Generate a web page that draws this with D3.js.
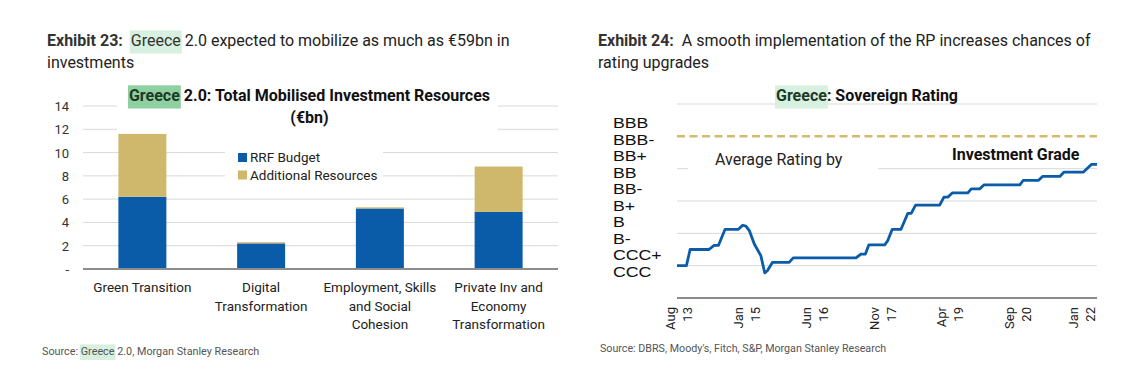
<!DOCTYPE html>
<html><head><meta charset="utf-8">
<script src="https://cdn.jsdelivr.net/npm/d3@7"></script>
<style>
body{margin:0;background:#fff}
svg{display:block;font-family:Roboto,"Noto Sans",sans-serif}
text{white-space:pre}
</style>
</head><body>
<svg id="c" width="1140" height="377"></svg>
<script>
// ---------- Data: Exhibit 23 ----------
const categories = [
  ["Green Transition"],
  ["Digital", "Transformation"],
  ["Employment, Skills", "and Social", "Cohesion"],
  ["Private Inv and", "Economy", "Transformation"]
];
const rrfBudget = [6.2, 2.2, 5.2, 4.9];
const additionalResources = [5.4, 0.1, 0.1, 3.9];
const leftTicks = [0, 2, 4, 6, 8, 10, 12, 14];
const leftTickLabels = ["-", "2", "4", "6", "8", "10", "12", "14"];
const seriesNames = ["RRF Budget", "Additional Resources"];

// ---------- Data: Exhibit 24 ----------
const ratingLabels = ["BBB", "BBB-", "BB+", "BB", "BB-", "B+", "B", "B-", "CCC+", "CCC"];
const ratingDates = [
  "2013-07-15","2013-09-25","2013-10-23","2014-03-16","2014-04-24","2014-05-27","2014-07-17",
  "2014-10-27","2014-11-28","2014-12-23","2015-01-18","2015-02-25","2015-04-16","2015-05-16",
  "2015-06-06","2015-07-13","2015-11-18","2015-12-19","2017-04-11","2017-05-19","2017-06-22",
  "2017-07-18","2017-11-16","2017-12-10","2018-01-13","2018-03-21","2018-05-12","2018-06-07",
  "2018-07-10","2019-01-10","2019-02-12","2019-03-13","2019-04-16","2019-08-13","2019-09-08",
  "2019-11-12","2019-12-15","2020-09-13","2020-10-08","2021-02-01","2021-03-05","2021-07-15",
  "2021-08-15","2022-01-10","2022-03-13","2022-04-25"
];
const ratingValues = [
  0, 0, 1, 1, 1.25, 1.25, 2.25,
  2.25, 2.5, 2.45, 2.17, 1.34, 0.62, -0.45,
  -0.3, 0.2, 0.2, 0.48, 0.48, 0.72, 0.72,
  1.28, 1.28, 1.55, 2.25, 2.25, 3.24, 3.24,
  3.74, 3.74, 4.24, 4.24, 4.5, 4.5, 4.75,
  4.75, 5.0, 5.0, 5.27, 5.27, 5.52, 5.52,
  5.78, 5.78, 6.26, 6.26
];
const ratingGrid = [0, 2, 4, 6, 10];
const investmentGrade = 8;
const xTickDates = ["2013-08-01","2015-01-01","2016-06-01","2017-11-01","2019-04-01","2020-09-01","2022-01-01"];
const xTickLabels = [["Aug","13"],["Jan","15"],["Jun","16"],["Nov","17"],["Apr","19"],["Sep","20"],["Jan","22"]];

// ---------- Styles ----------
const BLUE = "#0a5ba8", GOLD = "#cfb76c", GRID = "#d9d9d9", AXIS = "#8c8c8c";
const HL_LIGHT = "#d8f0df", HL_STRONG = "#8fd0a0";

const svg = d3.select("#c");

// helper: sequential runs of text with optional highlight
function runs(g, x, y, parts, size, anchor) {
  const grp = g.append("g");
  let cx = 0;
  const items = [];
  parts.forEach(p => {
    const t = grp.append("text").attr("x", cx).attr("y", 0)
      .attr("font-size", size).attr("font-weight", p.bold ? 700 : 400)
      .attr("fill", p.color || "#222").text(p.t);
    const w = t.node().getComputedTextLength();
    items.push({t, x: cx, w, p});
    cx += w;
  });
  items.forEach(it => {
    if (it.p.hl) {
      grp.insert("rect", ":first-child").attr("x", it.x - 1).attr("y", -size * 0.98)
        .attr("width", it.w + 2).attr("height", size * 1.45).attr("fill", it.p.hl);
    }
  });
  const off = anchor === "middle" ? -cx / 2 : 0;
  grp.attr("transform", `translate(${x + off},${y})`);
  return grp;
}

// ================= Exhibit 23 =================
const L = svg.append("g");
runs(L, 47, 46, [{t:"Exhibit 23:", bold:true, color:"#333"}, {t:"  "}, {t:"Greece", hl:HL_LIGHT, color:"#333"}, {t:" 2.0 expected to mobilize as much as €59bn in", color:"#222"}], 16);
runs(L, 47, 68, [{t:"investments", color:"#222"}], 16);

const x1 = d3.scaleBand().domain(d3.range(categories.length)).range([83, 558])
  .paddingInner(0.596).paddingOuter(0.298);
const y1 = d3.scaleLinear().domain([0, 14]).range([269, 106]);

// gridlines
L.append("g").selectAll("line").data(leftTicks.filter(d => d > 0)).join("line")
  .attr("x1", 83).attr("x2", 558).attr("y1", d => y1(d)).attr("y2", d => y1(d))
  .attr("stroke", GRID).attr("stroke-width", 1);

// y tick labels
L.append("g").selectAll("text").data(leftTicks).join("text")
  .attr("x", 69).attr("y", d => y1(d) + 5).attr("text-anchor", "end")
  .attr("font-size", 13).attr("fill", "#333").text((d, i) => leftTickLabels[i]);

// title white box + title
L.append("rect").attr("x", 117).attr("y", 84).attr("width", 381).attr("height", 48).attr("fill", "#fff");
runs(L, 309.5, 101, [{t:"Greece", bold:true, hl:HL_STRONG, color:"#1d3a26"}, {t:" 2.0: Total Mobilised Investment Resources", bold:true, color:"#111"}], 16, "middle");
L.append("text").attr("x", 309.5).attr("y", 123).attr("text-anchor", "middle")
  .attr("font-size", 16).attr("font-weight", 700).attr("fill", "#111").text("(€bn)");

// legend box
L.append("rect").attr("x", 225).attr("y", 143).attr("width", 158).attr("height", 46).attr("fill", "#fff");
const leg = L.append("g");
[BLUE, GOLD].forEach((c, i) => {
  leg.append("rect").attr("x", 238).attr("y", 153 + i * 17.5).attr("width", 9).attr("height", 9).attr("fill", c);
  leg.append("text").attr("x", 250).attr("y", 162 + i * 17.5).attr("font-size", 13.5).attr("fill", "#222").text(seriesNames[i]);
});

// bars
const stack = categories.map((c, i) => ({i, a: rrfBudget[i], b: additionalResources[i]}));
L.append("g").selectAll("rect").data(stack).join("rect")
  .attr("x", d => x1(d.i)).attr("width", x1.bandwidth())
  .attr("y", d => y1(d.a)).attr("height", d => y1(0) - y1(d.a)).attr("fill", BLUE);
L.append("g").selectAll("rect").data(stack).join("rect")
  .attr("x", d => x1(d.i)).attr("width", x1.bandwidth())
  .attr("y", d => y1(d.a + d.b)).attr("height", d => y1(d.a) - y1(d.a + d.b)).attr("fill", GOLD);

// axis line
L.append("line").attr("x1", 83).attr("x2", 558).attr("y1", y1(0)).attr("y2", y1(0))
  .attr("stroke", AXIS).attr("stroke-width", 2);

// category labels
categories.forEach((lines, i) => {
  const t = L.append("text").attr("text-anchor", "middle").attr("font-size", 13.5).attr("fill", "#222");
  lines.forEach((s, k) => t.append("tspan").attr("x", x1(i) + x1.bandwidth() / 2).attr("y", 292 + k * 18.5).text(s));
});

runs(L, 42, 355, [{t:"Source: ", color:"#555"}, {t:"Greece", hl:HL_LIGHT, color:"#555"}, {t:" 2.0, Morgan Stanley Research", color:"#555"}], 10.8);

// ================= Exhibit 24 =================
const R = svg.append("g");
runs(R, 598, 46, [{t:"Exhibit 24:", bold:true, color:"#333"}, {t:"  A smooth implementation of the RP increases chances of", color:"#222"}], 16);
runs(R, 598, 68, [{t:"rating upgrades", color:"#222"}], 16);

const parse = d3.timeParse("%Y-%m-%d");
const x2 = d3.scaleTime().domain([parse("2013-07-15"), parse("2022-04-25")]).range([677, 1097]);
const y2 = d3.scaleLinear().domain([-2, 10]).range([298, 104]);

R.append("g").selectAll("line").data(ratingGrid).join("line")
  .attr("x1", 677).attr("x2", 1097).attr("y1", d => y2(d)).attr("y2", d => y2(d))
  .attr("stroke", GRID).attr("stroke-width", 1);

// investment grade dashed line
R.append("line").attr("x1", 677).attr("x2", 1097).attr("y1", y2(investmentGrade)).attr("y2", y2(investmentGrade))
  .attr("stroke", "#d2bb6f").attr("stroke-width", 2.5).attr("stroke-dasharray", "8,4.5");

// title
runs(R, 776, 101, [{t:"Greece", bold:true, hl:HL_LIGHT, color:"#1d3a26"}, {t:": Sovereign Rating", bold:true, color:"#111"}], 16);

// Average Rating by (white box)
R.append("rect").attr("x", 688).attr("y", 145).attr("width", 190).attr("height", 27).attr("fill", "#fff");
R.append("text").attr("x", 715).attr("y", 165).attr("font-size", 16).attr("fill", "#222").text("Average Rating by");
R.append("text").attr("x", 952).attr("y", 160).attr("font-size", 16).attr("font-weight", 700).attr("fill", "#111").text("Investment Grade");

// rating labels
const yl = d3.scalePoint().domain(ratingLabels).range([128.3, 276.7]);
R.append("g").selectAll("text").data(ratingLabels).join("text")
  .attr("transform", d => `translate(613,${yl(d)}) scale(1.18,1)`)
  .attr("font-family", "'Liberation Sans', Arial, sans-serif").attr("font-size", 15).attr("fill", "#111").text(d => d);

// line
const pts = ratingDates.map((d, i) => [parse(d), ratingValues[i]]);
R.append("path").datum(pts)
  .attr("d", d3.line().x(d => x2(d[0])).y(d => y2(d[1])))
  .attr("fill", "none").attr("stroke", BLUE).attr("stroke-width", 2.8).attr("stroke-linejoin", "round");

// axis line
R.append("line").attr("x1", 677).attr("x2", 1097).attr("y1", y2(-2)).attr("y2", y2(-2))
  .attr("stroke", AXIS).attr("stroke-width", 2);

// x tick labels
xTickDates.forEach((d, i) => {
  const g = R.append("g").attr("transform", `translate(${x2(parse(d))},307) rotate(-90)`);
  const t = g.append("text").attr("text-anchor", "end").attr("font-size", 13).attr("fill", "#222");
  t.append("tspan").attr("x", 0).attr("y", -4).text(xTickLabels[i][0]);
  t.append("tspan").attr("x", 0).attr("y", 13).text(xTickLabels[i][1]);
});

runs(R, 600, 352, [{t:"Source: DBRS, Moody's, Fitch, S&P, Morgan Stanley Research", color:"#555"}], 10.7);
</script>
</body></html>
